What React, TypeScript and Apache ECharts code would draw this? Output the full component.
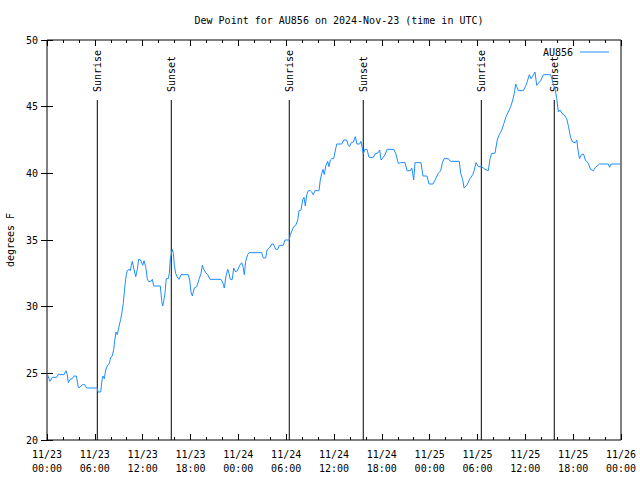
import React, { useEffect, useRef } from "react";
import * as echarts from "echarts";

// hours since 2024-11-23 00:00 UTC
const hours = [
  0, 0.38, 0.66, 1.22, 1.38, 2.13, 2.38, 2.55, 2.67, 2.89, 3.17, 3.39, 3.68, 3.93, 4.14, 4.43, 4.73, 4.98,
  6.31, 6.4, 6.74, 6.9, 7.02, 7.19, 7.36, 7.56, 7.81, 7.99, 8.19, 8.37, 8.49, 8.66, 8.82, 9.03, 9.24, 9.41,
  9.57, 9.78, 9.95, 10.07, 10.32, 10.45, 10.57, 10.7, 10.91, 11.13, 11.33, 11.5, 11.75, 12.0, 12.17, 12.38,
  12.58, 12.71, 13.05, 13.21, 13.39, 14.21, 14.39, 14.51, 14.64, 14.8, 14.96, 15.21, 15.34, 15.47, 15.72,
  15.85, 15.97, 16.14, 16.31, 16.56, 16.81, 17.72, 17.9, 18.06, 18.23, 18.48, 18.78, 19.07, 19.32, 19.48,
  19.66, 19.91, 20.16, 20.45, 21.83, 22.08, 22.24, 22.45, 22.67, 22.83, 22.99, 23.24, 23.42, 23.67, 23.92,
  24.17, 24.42, 24.59, 24.75, 24.92, 25.17, 25.34, 26.93, 27.13, 27.43, 27.6, 27.89, 28.19, 28.39, 28.69,
  28.94, 29.14, 29.64, 29.85, 30.39, 30.52, 30.77, 30.95, 31.2, 31.45, 31.61, 31.86, 32.07, 32.24, 32.4,
  32.58, 32.78, 33.03, 33.2, 33.4, 33.62, 34.12, 34.28, 34.46, 34.62, 34.78, 34.96, 35.21, 35.37, 35.54,
  35.71, 35.96, 36.13, 36.34, 36.97, 37.22, 37.59, 37.79, 37.94, 38.17, 38.44, 38.67, 38.88, 39.22, 39.38,
  39.55, 39.67, 39.89, 40.14, 40.39, 40.93, 41.14, 41.55, 41.73, 41.9, 42.06, 42.4, 42.65, 43.49, 43.74,
  44.07, 44.4, 44.91, 45.16, 45.57, 45.75, 45.87, 46.0, 46.16, 46.91, 47.16, 47.66, 47.92, 48.42, 48.76,
  49.08, 49.38, 49.58, 49.8, 50.34, 50.59, 51.72, 51.89, 52.14, 52.31, 52.65, 53.06, 53.4, 53.6, 53.81,
  54.1, 54.53, 54.94, 55.36, 55.57, 55.78, 56.19, 56.48, 56.73, 57.04, 57.32, 57.58, 57.86, 58.16, 58.42,
  58.62, 58.79, 58.92, 59.12, 59.75, 60.08, 60.25, 60.5, 60.71, 60.93, 61.21, 61.43, 61.63, 61.93, 62.26,
  63.16, 63.38, 63.54, 63.72, 63.94, 64.14, 64.35, 64.6, 64.85, 65.19, 65.42, 65.67, 65.92, 66.27, 66.45,
  66.64, 66.8, 67.05, 67.3, 67.53, 67.9, 68.18, 68.53, 68.8, 69.31, 70.41, 70.57, 70.75, 71.88,
];

const dewPoint = [
  25.0, 24.4, 24.7, 24.7, 24.9, 24.9, 25.2, 24.9, 24.3, 24.55, 24.6, 24.8, 24.8, 23.95, 23.95, 24.15, 24.15, 23.9,
  23.9, 23.6, 23.6, 24.5, 24.8, 24.6, 25.25, 25.55, 25.75, 26.2, 26.3, 26.8, 27.45, 28.1, 27.9, 28.5, 29.05, 29.6,
  30.25, 31.6, 32.4, 32.7, 32.8, 32.7, 33.1, 33.4, 32.8, 32.25, 32.8, 33.55, 33.5, 33.1, 33.45, 33.0,
  32.1, 31.9, 31.9, 32.05, 31.55, 31.55, 30.45, 30.05, 30.4, 31.0, 32.1, 32.1, 32.5, 33.6, 34.3,
  34.0, 33.1, 32.5, 32.25, 32.05, 32.4, 32.4, 32.0, 31.1, 30.8, 31.4, 31.5, 32.05, 32.5, 33.1,
  32.8, 32.55, 32.4, 32.05, 32.05, 31.75, 31.4, 32.3, 32.8, 32.5, 32.05, 32.05, 32.9, 32.6, 32.75,
  33.1, 33.3, 33.0, 32.4, 33.4, 33.9, 34.05, 34.05, 33.65, 33.65, 34.25, 34.4, 34.7, 34.7, 34.3,
  34.3, 34.6, 34.6, 35.0, 35.0, 35.4, 35.75, 36.0, 36.1, 36.5, 37.2, 37.25, 38.0, 38.2, 37.55,
  38.4, 38.7, 38.7, 38.6, 38.4, 38.7, 38.7, 39.5, 40.0, 40.3, 39.9, 40.55, 40.9, 40.5, 41.0,
  41.1, 41.1, 41.6, 42.2, 42.2, 42.5, 42.5, 42.1, 42.0, 42.3, 42.35, 42.75, 42.2, 42.2, 42.4,
  41.9, 41.45, 41.8, 41.8, 41.2, 41.2, 41.45, 41.55, 41.75, 41.0, 41.1, 41.4, 41.8, 41.8, 41.5,
  40.75, 40.8, 40.8, 40.2, 40.2, 40.4, 40.0, 39.5, 40.8, 40.8, 39.8, 39.8, 39.2, 39.2, 39.6,
  40.0, 40.2, 40.75, 41.1, 41.1, 40.9, 40.9, 40.0, 39.55, 38.9, 39.1, 39.6, 39.9, 40.25, 40.8,
  40.5, 40.5, 40.3, 40.2, 41.1, 41.5, 41.5, 42.5, 42.9, 43.25, 43.75, 44.25, 44.6, 45.0, 45.5,
  46.0, 46.7, 46.5, 46.2, 46.2, 46.6, 46.9, 47.4, 47.1, 47.3, 47.6, 46.6, 46.75, 46.95, 47.4,
  47.4, 47.0, 46.6, 46.4, 45.6, 44.6, 44.75, 44.5, 44.4, 44.1, 43.5, 42.7, 42.35, 42.3, 42.5,
  41.6, 41.1, 41.4, 41.45, 41.0, 40.75, 40.3, 40.2, 40.45, 40.7, 40.7, 40.45, 40.7, 40.7,
];

const sunEventHours = [6.31, 15.59, 30.39, 39.67, 54.48, 63.63];
const sunEventLabels = ["Sunrise", "Sunset", "Sunrise", "Sunset", "Sunrise", "Sunset"];

const xTickLabels = [
  "11/23\n00:00", "11/23\n06:00", "11/23\n12:00", "11/23\n18:00",
  "11/24\n00:00", "11/24\n06:00", "11/24\n12:00", "11/24\n18:00",
  "11/25\n00:00", "11/25\n06:00", "11/25\n12:00", "11/25\n18:00",
  "11/26\n00:00",
];

const FONT = '"DejaVu Sans Mono", "Liberation Mono", monospace';

export default function App() {
  const ref = useRef<HTMLDivElement>(null);

  useEffect(() => {
    document.body.style.margin = "0";
    if (!ref.current) return;
    const chart = echarts.init(ref.current, null, { renderer: "svg" });

    const lineData = hours.map((h, i) => [h, dewPoint[i]]);
    const sunData = sunEventHours.map((h, i) => [h, i]);

    const tickCommon = {
      axisLine: { show: false },
      splitLine: { show: false },
    };

    chart.setOption({
      animation: false,
      backgroundColor: "#fff",
      textStyle: { fontFamily: FONT, fontSize: 10, color: "#000" },
      title: {
        text: "Dew Point for AU856 on 2024-Nov-23 (time in UTC)",
        left: 334,
        textAlign: "center",
        top: 10,
        textStyle: { fontFamily: FONT, fontSize: 10, fontWeight: "normal", color: "#000" },
      },
      legend: {
        data: ["AU856"],
        right: 26,
        top: 42,
        align: "right",
        icon: "rect",
        itemWidth: 29,
        itemHeight: 1,
        textStyle: { fontFamily: FONT, fontSize: 10, color: "#000", padding: [0, 2, 0, 0] },
      },
      grid: {
        left: 47,
        right: 19,
        top: 40,
        bottom: 40,
        outerBoundsMode: "none",
        containLabel: false,
        show: true,
        borderColor: "#000",
        borderWidth: 1,
        backgroundColor: "transparent",
      },
      xAxis: [
        {
          type: "value",
          min: 0,
          max: 72,
          interval: 6,
          position: "bottom",
          ...tickCommon,
          axisTick: { show: true, inside: true, length: 6, lineStyle: { color: "#000" } },
          minorTick: { show: true, splitNumber: 3, length: 3, lineStyle: { color: "#000" } },
          axisLabel: {
            fontFamily: FONT,
            fontSize: 10,
            color: "#000",
            margin: 7,
            lineHeight: 14,
            formatter: (v: number) => xTickLabels[Math.round(v / 6)] ?? "",
          },
        },
        {
          type: "value",
          min: 0,
          max: 72,
          interval: 6,
          position: "top",
          ...tickCommon,
          axisTick: { show: true, inside: true, length: 6, lineStyle: { color: "#000" } },
          minorTick: { show: true, splitNumber: 3, length: 3, lineStyle: { color: "#000" } },
          axisLabel: { show: false },
        },
      ],
      yAxis: [
        {
          type: "value",
          min: 20,
          max: 50,
          interval: 5,
          position: "left",
          name: "degrees F",
          nameLocation: "middle",
          nameRotate: 90,
          nameGap: 32,
          nameTextStyle: { fontFamily: FONT, fontSize: 10, color: "#000" },
          ...tickCommon,
          axisTick: { show: true, inside: true, length: 6, lineStyle: { color: "#000" } },
          axisLabel: { fontFamily: FONT, fontSize: 10, color: "#000", margin: 9 },
        },
        {
          type: "value",
          min: 20,
          max: 50,
          interval: 5,
          position: "right",
          ...tickCommon,
          axisTick: { show: true, inside: true, length: 6, lineStyle: { color: "#000" } },
          axisLabel: { show: false },
        },
      ],
      series: [
        {
          type: "custom",
          name: "sun",
          xAxisIndex: 0,
          yAxisIndex: 0,
          data: sunData,
          encode: { x: 0, y: 1 },
          silent: true,
          z: 3,
          renderItem: (params: any, api: any) => {
            const h = api.value(0);
            const idx = api.value(1);
            const p0 = api.coord([h, 20]);
            const p1 = api.coord([h, 45.5]);
            return {
              type: "group",
              children: [
                {
                  type: "line",
                  shape: { x1: p0[0], y1: p0[1], x2: p1[0], y2: p1[1] },
                  style: { stroke: "#000", lineWidth: 1 },
                },
                {
                  type: "text",
                  x: p1[0],
                  y: p1[1] - 8,
                  rotation: Math.PI / 2,
                  style: {
                    text: sunEventLabels[idx],
                    fill: "#000",
                    fontSize: 10,
                    fontFamily: FONT,
                    align: "left",
                    verticalAlign: "middle",
                  },
                },
              ],
            };
          },
        },
        {
          type: "line",
          name: "AU856",
          xAxisIndex: 0,
          yAxisIndex: 0,
          data: lineData,
          showSymbol: false,
          symbol: "none",
          z: 4,
          lineStyle: { color: "#1e8cff", width: 1 },
          itemStyle: { color: "#1e8cff" },
        },
      ],
    });

    return () => chart.dispose();
  }, []);

  return <div ref={ref} style={{ width: 640, height: 480 }} />;
}
